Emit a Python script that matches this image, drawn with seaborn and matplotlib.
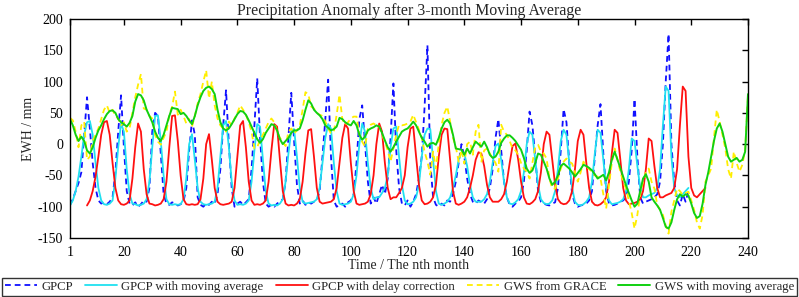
import numpy as np
import pandas as pd
import matplotlib
matplotlib.use("Agg")
import matplotlib.pyplot as plt
import seaborn as sns

# ---------------- data ----------------
gpcp = [
    -97, -88, -75, -62, -45, 15, 75, 25, -30, -70,
    -90, -95, -93, -96, -92, -85, -45, 20, 78, -5,
    -75, -95, -98, -93, -100, -96, -90, -92, -70, 20,
    50, 45, -15, -80, -95, -97, -93, -95, -98, -96,
    -92, -70, -10, 38, 15, -85, -97, -100, -95, -97,
    -92, -95, -80, -40, 30, 86, 0, -70, -100, -95,
    -92, -97, -93, -88, -40, 30, 105, 10, -60, -95,
    -100, -97, -100, -95, -92, -88, -60, 10, 82, 5,
    -65, -95, -90, -97, -93, -95, -92, -90, -75, -20,
    40, 103, -20, -90, -100, -97, -95, -100, -93, -90,
    -80, -30, 40, 62, 0, -60, -95, -85, -95, -80,
    -65, -80, -55, 10, 97, -10, -70, -95, -98, -90,
    -100, -92, -80, -55, -20, 60, 158, -30, -85, -97,
    -100, -95, -98, -90, -92, -80, -60, -30, 0, -20,
    -55, -80, -92, -95, -90, -93, -95, -88, -70, -40,
    10, 40, -10, -60, -85, -97, -100, -95, -92, -85,
    -60, -10, 52, 30, -20, -75, -92, -95, -97, -98,
    -95, -93, -70, -10, 56, 35, -30, -80, -95, -100,
    -98, -97, -95, -90, -75, -20, 30, 64, -15, -75,
    -95, -98, -97, -95, -92, -90, -85, -60, -10, 72,
    -20, -85, -95, -92, -90, -88, -85, -80, -60, 0,
    100, 176, 0, -60, -90, -98, -80, -92, -75,
]
gpcp_start = 1

gpcp_ma = [
    -98, -90, -75, -52, -20, 15, 35, 37, 15, -30,
    -70, -90, -96, -97, -95, -90, -55, -5, 33, 20,
    -40, -80, -95, -96, -98, -97, -95, -88, -60, -5,
    45, 46, 5, -50, -88, -96, -97, -96, -97, -96,
    -88, -55, 0, 16, -25, -70, -92, -96, -97, -96,
    -95, -92, -70, -20, 30, 37, -5, -60, -90, -97,
    -96, -97, -95, -90, -60, -10, 32, 28, -25, -75,
    -95, -98, -97, -98, -95, -88, -60, -15, 22, 24,
    -20, -70, -92, -95, -94, -93, -92, -88, -70, -30,
    10, 32, 25, -30, -75, -95, -97, -96, -95, -92,
    -80, -50, 0, 33, 20, -30, -70, -88, -85, -85,
    -78, -70, -50, -5, 25, 28, -20, -65, -90, -96,
    -95, -92, -85, -65, -20, 15, 25, 24, -25, -75,
    -95, -97, -95, -92, -85, -70, -50, -25, -13, -15,
    -35, -65, -85, -92, -92, -92, -88, -80, -60, -30,
    -3, 1, -25, -60, -85, -95, -96, -93, -88, -75,
    -45, 0, 20, 15, -25, -65, -88, -94, -96, -95,
    -90, -75, -40, 5, 23, 15, -30, -70, -92, -97,
    -98, -96, -92, -85, -60, -15, 23, 18, -25, -70,
    -90, -96, -95, -94, -92, -88, -75, -40, 9, 5,
    -35, -70, -85, -85, -82, -80, -78, -70, -40, 30,
    92, 85, -20, -70, -82, -85, -80, -75, -70,
]
gpcp_ma_start = 1

gpcp_delay = [
    -98, -90, -75, -52, -20, 15, 35, 37, 15, -30,
    -70, -90, -96, -97, -95, -90, -55, -5, 33, 20,
    -40, -80, -95, -96, -98, -97, -95, -88, -60, -5,
    45, 46, 5, -50, -88, -96, -97, -96, -97, -96,
    -88, -55, 0, 16, -25, -70, -92, -96, -97, -96,
    -95, -92, -70, -20, 30, 37, -5, -60, -90, -97,
    -96, -97, -95, -90, -60, -10, 32, 28, -25, -75,
    -95, -98, -97, -98, -95, -88, -60, -15, 22, 24,
    -20, -70, -92, -95, -94, -93, -92, -88, -70, -30,
    10, 32, 25, -30, -75, -95, -97, -96, -95, -92,
    -80, -50, 0, 33, 20, -30, -70, -88, -85, -85,
    -78, -70, -50, -5, 25, 28, -20, -65, -90, -96,
    -95, -92, -85, -65, -20, 15, 25, 24, -25, -75,
    -95, -97, -95, -92, -85, -70, -50, -25, -13, -15,
    -35, -65, -85, -92, -92, -92, -88, -80, -60, -30,
    -3, 1, -25, -60, -85, -95, -96, -93, -88, -75,
    -45, 0, 20, 15, -25, -65, -88, -94, -96, -95,
    -90, -75, -40, 5, 23, 15, -30, -70, -92, -97,
    -98, -96, -92, -85, -60, -15, 23, 18, -25, -70,
    -90, -96, -95, -94, -92, -88, -75, -40, 9, 5,
    -35, -70, -85, -85, -82, -80, -78, -70, -40, 30,
    92, 85, -20, -70, -82, -85, -80, -75, -70,
]
gpcp_delay_start = 7

gws = [
    42, 38, 20, -5, 30, 36, -25, -20, 5, 15,
    25, 40, 55, 62, 50, 55, 45, 41, 30, 35,
    20, 25, 50, 75, 95, 112, 57, 55, 45, 41,
    15, 4, -1, 10, 20, 47, 60, 84, 47, 55,
    45, 33, 40, 28, 45, 65, 80, 100, 118, 73,
    100, 62, 41, 30, 25, 20, 36, 30, 41, 50,
    62, 55, 47, 35, 20, -7, -5, 7, 15, 25,
    35, 41, 35, 20, 10, 4, -3, 20, 25, 17,
    22, 30, 55, 83, 80, 60, 57, 50, 47, 45,
    36, 25, 17, 20, 47, 79, 40, 31, 35, 41,
    44, 44, 15, 4, -4, 25, 31, 33, 30, 28,
    15, 4, -10, -28, -7, 15, 31, 30, 31, 33,
    36, 47, 35, 23, 10, -12, -28, -49, -12, -39,
    0, 31, 50, 60, 36, 10, -4, -28, -9, -31,
    0, 4, -17, 20, 31, -28, -10, -7, -15, -23,
    -30, -44, 31, 20, 15, 5, -7, -10, -17, -30,
    -39, -44, -55, -30, -5, -1, -12, -15, -23, -55,
    -71, -71, -55, -39, -28, -23, -28, -31, -45, -60,
    -45, -28, -35, -40, -44, -50, -52, -55, -80, -103,
    -65, -30, -7, -25, -44, -60, -71, -90, -110, -135,
    -113, -80, -60, -45, -39, -60, -71, -97, -105, -113,
    -130, -143, -108, -90, -71, -75, -81, -78, -76, -90,
    -105, -125, -135, -113, -60, -50, -39, 10, 55, 36,
    15, -7, -40, -55, -12, -30, -44, -33, -9, 78,
]
gws_start = 1

gws_ma = [
    40, 30, 15, 5, 12, 5, -10, -15, -5, 10,
    22, 30, 40, 48, 53, 54, 50, 40, 35, 32,
    28, 34, 45, 68, 80, 78, 70, 55, 45, 35,
    20, 10, 5, 15, 30, 45, 58, 57, 56, 48,
    50, 45, 38, 32, 45, 62, 75, 85, 90, 92,
    88, 80, 55, 35, 25, 22, 25, 32, 40, 48,
    53, 52, 47, 38, 28, 18, 8, 2, 8, 18,
    25, 32, 30, 22, 8, 0, 5, 10, 18, 22,
    22, 25, 38, 55, 70, 65, 55, 50, 46, 40,
    30, 26, 22, 24, 28, 42, 40, 35, 32, 30,
    37, 30, 15, 7, 12, 22, 25, 27, 30, 28,
    18, 6, -5, -12, -5, 4, 12, 20, 23, 25,
    30, 36, 30, 20, 10, 4, -4, 1, 2, -1,
    10, 25, 35, 39, 33, 15, -7, -8, -9, -17,
    -7, -15, -5, 4, 0, -4, 4, -5, -17, -22,
    -20, -12, 2, 9, 14, 14, 10, 5, -2, -9,
    -22, -39, -46, -42, -30, -15, -17, -28, -39, -55,
    -65, -60, -50, -35, -31, -35, -39, -45, -52, -46,
    -40, -33, -35, -38, -42, -48, -55, -52, -49, -58,
    -45, -25, -12, -25, -38, -52, -66, -78, -90, -100,
    -95, -75, -55, -48, -60, -85, -92, -98, -105, -118,
    -132, -135, -125, -105, -88, -80, -84, -80, -82, -95,
    -110, -118, -115, -95, -65, -45, -20, 5, 25, 33,
    20, 0, -20, -28, -25, -22, -28, -25, -12, 80,
]
gws_ma_start = 1

labels = ["GPCP", "GPCP with moving average", "GPCP with delay correction",
          "GWS from GRACE", "GWS with moving average"]
x_ticks = [1, 20, 40, 60, 80, 100, 120, 140, 160, 180, 200, 220, 240]
y_ticks = [-150, -100, -50, 0, 50, 100, 150, 200]

# ---------------- styling ----------------
sns.set_theme(style="white")
plt.rcParams["font.family"] = ["Liberation Serif", "DejaVu Serif"]
plt.rcParams["axes.unicode_minus"] = False

fig = plt.figure(figsize=(7.99, 2.97), dpi=100)
ax = fig.add_axes([70 / 799, 1 - 238 / 297, 678 / 799, 219 / 297])

series = [
    (gpcp, gpcp_start, "#1010FF", (0, (3.2, 2.2)), 1.3),
    (gpcp_ma, gpcp_ma_start, "#20E0F0", "-", 1.3),
    (gpcp_delay, gpcp_delay_start, "#FF1010", "-", 1.3),
    (gws, gws_start, "#FFEE00", (0, (3.2, 2.2)), 1.3),
    (gws_ma, gws_ma_start, "#10D010", "-", 1.4),
]

for (vals, start, color, ls, lw), lab in zip(series, labels):
    df = pd.DataFrame({"month": np.arange(start, start + len(vals)),
                       "value": vals})
    sns.lineplot(data=df, x="month", y="value", ax=ax, color=color,
                 linestyle=ls, linewidth=lw, label=lab, sort=True)

handles, labs = ax.get_legend_handles_labels()
if ax.get_legend() is not None:
    ax.get_legend().remove()

ax.set_xlim(1, 240)
ax.set_ylim(-150, 200)
ax.set_xticks(x_ticks)
ax.set_yticks(y_ticks)
ax.tick_params(direction="in", length=4, width=1, top=True, right=True,
               labelsize=10, colors="black", pad=5)
ax.tick_params(axis="x", pad=6)
for s in ax.spines.values():
    s.set_color("black")
    s.set_linewidth(1.0)

ax.set_title("Precipitation Anomaly after 3-month Moving Average",
             fontsize=11.4, pad=3)
ax.set_xlabel("Time / The nth month", fontsize=10, labelpad=0)
ax.set_ylabel("EWH / mm", fontsize=10, labelpad=2)

leg = fig.legend(handles, labs, loc="lower center",
                 bbox_to_anchor=(0.5, 0.003), ncol=5, fontsize=9.2,
                 frameon=True, fancybox=False, edgecolor="black",
                 handlelength=2.5, handletextpad=0.35, columnspacing=0.95,
                 borderpad=0.25, borderaxespad=0)
leg.get_frame().set_linewidth(1.0)

fig.savefig("out.png", dpi=100)
